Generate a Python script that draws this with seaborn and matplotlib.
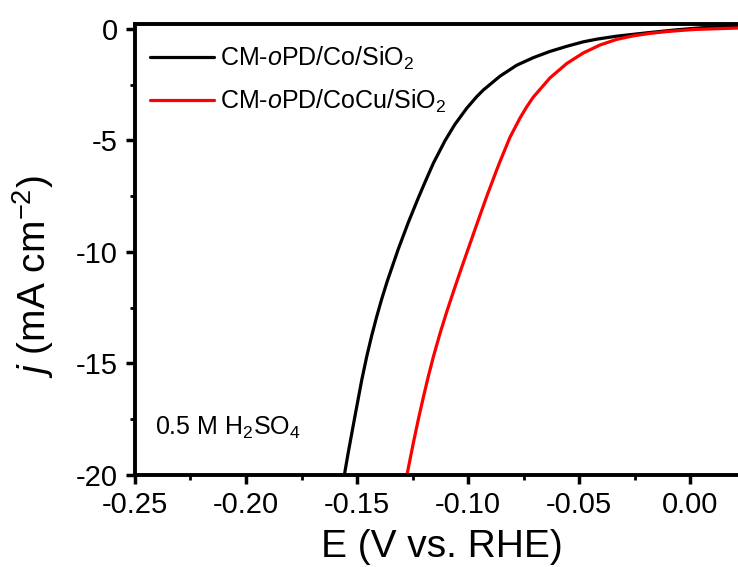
import numpy as np
import pandas as pd
import matplotlib
matplotlib.use("Agg")
import matplotlib.pyplot as plt
from matplotlib.ticker import MultipleLocator
import seaborn as sns

# ---- data ----
labels = [r"CM-$\it{o}$PD/Co/SiO$_2$", r"CM-$\it{o}$PD/CoCu/SiO$_2$"]
colors = ["#000000", "#ff0000"]

E_co = [-0.1557, -0.1539, -0.1509, -0.1479, -0.1456, -0.1434, -0.1411, -0.1389,
        -0.1364, -0.1314, -0.1269, -0.1224, -0.1194, -0.1156, -0.1104, -0.1059,
        -0.1006, -0.0961, -0.0931, -0.0856, -0.0781, -0.0706, -0.0631, -0.0555,
        -0.0481, -0.0420, -0.0330, -0.0180, -0.0060, 0.0050, 0.0250]
j_co = [-20.0, -18.97, -17.35, -15.76, -14.68, -13.76, -12.89, -12.12,
        -11.32, -9.87, -8.68, -7.58, -6.88, -6.02, -5.02, -4.28,
        -3.56, -3.04, -2.74, -2.12, -1.63, -1.29, -1.01, -0.78,
        -0.58, -0.46, -0.325, -0.16, -0.04, 0.05, 0.15]

E_cocu = [-0.1275, -0.1246, -0.1224, -0.1201, -0.1179, -0.1156, -0.1126, -0.1096,
          -0.1062, -0.1028, -0.0991, -0.0954, -0.0916, -0.0871, -0.0856, -0.0811,
          -0.0766, -0.0736, -0.0706, -0.0631, -0.0555, -0.0481, -0.0405, -0.0330,
          -0.0255, -0.0180, -0.0105, -0.0030, 0.0030, 0.0250]
j_cocu = [-20.0, -18.55, -17.52, -16.51, -15.59, -14.70, -13.65, -12.69,
          -11.67, -10.68, -9.63, -8.58, -7.52, -6.33, -5.95, -4.86,
          -4.00, -3.50, -3.06, -2.20, -1.55, -1.08, -0.72, -0.47,
          -0.31, -0.20, -0.12, -0.06, -0.02, 0.05]

electrolyte = r"0.5 M H$_2$SO$_4$"
x_ticks = [-0.25, -0.20, -0.15, -0.10, -0.05, 0.00]
y_ticks = [0, -5, -10, -15, -20]

df = pd.concat([
    pd.DataFrame({"E": E_co, "j": j_co, "sample": labels[0]}),
    pd.DataFrame({"E": E_cocu, "j": j_cocu, "sample": labels[1]}),
], ignore_index=True)

# ---- style ----
sns.set_style("ticks")
plt.rcParams["font.family"] = ["Liberation Sans", "DejaVu Sans"]
plt.rcParams["mathtext.fontset"] = "custom"
plt.rcParams["mathtext.rm"] = "Liberation Sans"
plt.rcParams["mathtext.it"] = "Liberation Sans:italic"
plt.rcParams["mathtext.bf"] = "Liberation Sans:bold"
for key in ["text.color", "axes.labelcolor", "xtick.color", "ytick.color", "axes.edgecolor"]:
    plt.rcParams[key] = "black"

W, H = 738, 567
fig = plt.figure(figsize=(W / 100, H / 100), dpi=100)
ax = fig.add_axes([135 / W, 92 / H, 610.5 / W, 451 / H])

sns.lineplot(data=df, x="E", y="j", hue="sample", palette=dict(zip(labels, colors)),
             sort=False, estimator=None, linewidth=2.3, ax=ax)
for ln in ax.get_lines():
    ln.set_solid_joinstyle("round")

ax.set_xlim(-0.25, 0.025)
ax.set_ylim(-20, 0.22)
ax.set_xticks(x_ticks)
ax.set_xticklabels([f"{t:.2f}" for t in x_ticks])
ax.set_yticks(y_ticks)
ax.set_yticklabels([f"{t:d}" for t in y_ticks])
ax.xaxis.set_minor_locator(MultipleLocator(0.025))
ax.yaxis.set_minor_locator(MultipleLocator(2.5))

for side in ["left", "bottom", "top"]:
    ax.spines[side].set_linewidth(2.8)
    ax.spines[side].set_color("black")
ax.spines["right"].set_visible(False)
ax.tick_params(which="major", direction="out", length=6.5, width=2.5,
               labelsize=21, top=False, right=False, colors="black")
ax.tick_params(which="minor", direction="out", length=3.5, width=2.0,
               top=False, right=False, colors="black")
ax.tick_params(axis="x", which="major", pad=5)
ax.tick_params(axis="y", which="major", pad=6)

ax.set_xlabel("E (V vs. RHE)", fontsize=28)
ax.set_ylabel(r"$\it{j}$ (mA cm$^{-2}$)", fontsize=28)
ax.xaxis.set_label_coords(0.503, -0.12)
ax.yaxis.set_label_coords(-0.130, 0.44)

ax.legend(loc="upper left", bbox_to_anchor=(0.0246, 0.953), frameon=False,
          fontsize=18, handlelength=2.55, handletextpad=0.25, labelspacing=0.62,
          borderpad=0, borderaxespad=0)

ax.text(0.033, 0.089, electrolyte, transform=ax.transAxes, fontsize=18,
        ha="left", va="baseline")

fig.savefig("out.png", dpi=100)
